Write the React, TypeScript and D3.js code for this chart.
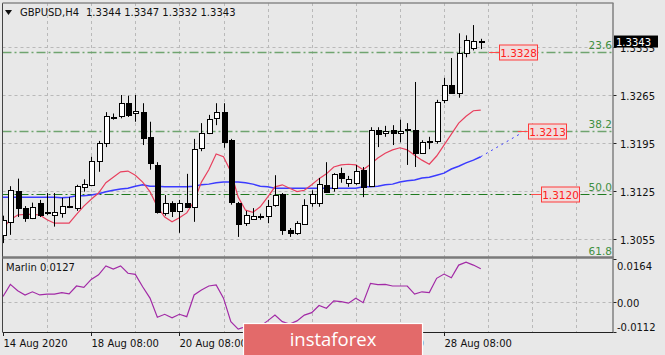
import React, { useEffect, useRef } from "react";
import * as d3 from "d3";

// GBPUSD H4 candles (bar 0 = 14 Aug 08:00)
const opens = [
  1.3061, 1.3080, 1.3125, 1.3100, 1.3086, 1.3108, 1.3093, 1.3090, 1.3093, 1.3102,
  1.3100, 1.3131, 1.3134, 1.3169, 1.3195, 1.3233, 1.3234, 1.3253, 1.3239, 1.3240,
  1.3204, 1.3163, 1.3094, 1.3108, 1.3097, 1.3108, 1.3102, 1.3188, 1.3210, 1.3231,
  1.3240, 1.3199, 1.3108, 1.3078, 1.3084, 1.3087, 1.3089, 1.3105, 1.3121, 1.3068,
  1.3064, 1.3078, 1.3108, 1.3108, 1.3134, 1.3129, 1.3151, 1.3137, 1.3137, 1.3156,
  1.3132, 1.3214, 1.3210, 1.3214, 1.3210, 1.3214, 1.3214, 1.3180, 1.3197, 1.3198,
  1.3258, 1.3280, 1.3268, 1.3326, 1.3334, 1.3344,
];
const highs = [
  1.3089, 1.3132, 1.3143, 1.3103, 1.3108, 1.3112, 1.3122, 1.3122, 1.3115, 1.3116,
  1.3134, 1.3142, 1.3175, 1.3198, 1.3240, 1.3238, 1.3265, 1.3264, 1.3265, 1.3253,
  1.3226, 1.3167, 1.3119, 1.3110, 1.3112, 1.3150, 1.3201, 1.3224, 1.3236, 1.3253,
  1.3253, 1.3201, 1.3109, 1.3096, 1.3100, 1.3092, 1.3112, 1.3148, 1.3122, 1.3071,
  1.3081, 1.3113, 1.3126, 1.3144, 1.3167, 1.3151, 1.3159, 1.3147, 1.3163, 1.3160,
  1.3218, 1.3218, 1.3220, 1.3221, 1.3229, 1.3224, 1.3284, 1.3199, 1.3204, 1.3258,
  1.3290, 1.3319, 1.3355, 1.3352, 1.3367, 1.3347,
];
const lows = [
  1.3049, 1.3061, 1.3087, 1.3080, 1.3084, 1.3087, 1.3090, 1.3073, 1.3086, 1.3100,
  1.3096, 1.3124, 1.3132, 1.3153, 1.3189, 1.3229, 1.3231, 1.3233, 1.3226, 1.3192,
  1.3156, 1.3092, 1.3089, 1.3087, 1.3064, 1.3100, 1.3080, 1.3183, 1.3208, 1.3221,
  1.3188, 1.3105, 1.3058, 1.3074, 1.3083, 1.3083, 1.3078, 1.3102, 1.3061, 1.3058,
  1.3061, 1.3077, 1.3102, 1.3102, 1.3122, 1.3124, 1.3137, 1.3131, 1.3134, 1.3116,
  1.3131, 1.3189, 1.3204, 1.3192, 1.3196, 1.3163, 1.3160, 1.3179, 1.3186, 1.3194,
  1.3253, 1.3269, 1.3261, 1.3320, 1.3330, 1.3332,
];
const closes = [
  1.3083, 1.3126, 1.3100, 1.3086, 1.3102, 1.3090, 1.3094, 1.3094, 1.3103, 1.3103,
  1.3132, 1.3135, 1.3169, 1.3195, 1.3234, 1.3232, 1.3253, 1.3236, 1.3242, 1.3202,
  1.3166, 1.3094, 1.3108, 1.3096, 1.3108, 1.3102, 1.3186, 1.3210, 1.3230, 1.3240,
  1.3196, 1.3108, 1.3077, 1.3090, 1.3089, 1.3089, 1.3103, 1.3119, 1.3068, 1.3064,
  1.3078, 1.3105, 1.3121, 1.3135, 1.3124, 1.3150, 1.3143, 1.3143, 1.3154, 1.3131,
  1.3214, 1.3208, 1.3213, 1.3210, 1.3213, 1.3215, 1.3180, 1.3196, 1.3198, 1.3255,
  1.3280, 1.3269, 1.3326, 1.3345, 1.3344, 1.3343,
];

// red (fast) and blue (slow) moving averages
const redMa = [
  1.3071, 1.3083, 1.3090, 1.3091, 1.3091, 1.3090, 1.3083, 1.3078, 1.3078, 1.3078,
  1.3091, 1.3103, 1.3113, 1.3122, 1.3137, 1.3145, 1.3153, 1.3154, 1.3148, 1.3138,
  1.3124, 1.3102, 1.3087, 1.3080, 1.3086, 1.3093, 1.3110, 1.3138, 1.3156, 1.3179,
  1.3175, 1.3153, 1.3116, 1.3097, 1.3094, 1.3102, 1.3116, 1.3131, 1.3134, 1.3129,
  1.3124, 1.3126, 1.3134, 1.3143, 1.3150, 1.3160, 1.3163, 1.3164, 1.3163, 1.3156,
  1.3164, 1.3173, 1.3180, 1.3185, 1.3188, 1.3185, 1.3177, 1.3170, 1.3164, 1.3176,
  1.3192, 1.3208, 1.3224, 1.3234, 1.3242, 1.3243,
];
const blueMa = [
  1.3116, 1.3116, 1.3116, 1.3116, 1.3116, 1.3116, 1.3116, 1.3116, 1.3115, 1.3116,
  1.3118, 1.3118, 1.3119, 1.3121, 1.3124, 1.3126, 1.3128, 1.3129, 1.3132, 1.3134,
  1.3132, 1.3132, 1.3131, 1.3131, 1.3131, 1.3131, 1.3132, 1.3134, 1.3135, 1.3137,
  1.3138, 1.3138, 1.3138, 1.3137, 1.3135, 1.3132, 1.3131, 1.3129, 1.3129, 1.3129,
  1.3129, 1.3129, 1.3129, 1.3129, 1.3129, 1.3129, 1.3129, 1.3129, 1.3129, 1.3131,
  1.3131, 1.3132, 1.3134, 1.3135, 1.3138, 1.3140, 1.3141, 1.3144, 1.3145, 1.3148,
  1.3151, 1.3157, 1.3161, 1.3166, 1.3170, 1.3175,
];
// dotted projection of the blue line
const projBars = [65, 70.3];
const projPrices = [1.3175, 1.3208];

// Marlin oscillator
const marlin = [
  0.0022, 0.0068, 0.0044, 0.0028, 0.0040, 0.0028, 0.0031, 0.0031, 0.0037, 0.0032,
  0.0062, 0.0057, 0.0087, 0.0104, 0.0138, 0.0126, 0.0138, 0.0110, 0.0106, 0.0059,
  0.0016, -0.0056, -0.0045, -0.0058, -0.0045, -0.0054, 0.0028, 0.0047, 0.0062, 0.0066,
  0.0016, -0.0073, -0.0101, -0.0092, -0.0112, -0.0090, -0.0070, -0.0048, -0.0073, -0.0082,
  -0.0070, -0.0048, -0.0039, -0.0012, -0.0022, 0.0006, 0.0003, -0.0003, 0.0016, -0.0001,
  0.0072, 0.0067, 0.0068, 0.0062, 0.0062, 0.0062, 0.0031, 0.0040, 0.0037, 0.0091,
  0.0107, 0.0093, 0.0141, 0.0152, 0.0141, 0.0127,
];

const priceTicks = [1.3055, 1.3125, 1.3195, 1.3265, 1.3335];
const marlinTicks = [0.0164, 0.0, -0.0112];
const marlinTickLabels = ["0.0164", "0.00", "-0.0112"];
const timeBars = [0, 12, 24, 36, 48, 60];
const timeLabels = ["14 Aug 2020", "18 Aug 08:00", "20 Aug 08:00", "24 Aug 08:00", "26 Aug 08:00", "28 Aug 08:00"];

const fibNames = ["23.6", "38.2", "50.0", "61.8"];
const fibPrices = [1.3328, 1.3213, 1.3120, 1.3027];

const markPrices = [1.3328, 1.3213, 1.3120];
const markBars = [67.5, 71.4, 73.2];

const lastPrice = 1.3343;

const FONT = "DejaVu Sans, Verdana, sans-serif";

const App = () => {
  const ref = useRef<SVGSVGElement>(null);

  useEffect(() => {
    const svg = d3.select(ref.current);
    svg.selectAll("*").remove();

    const width = 665;
    const height = 355;
    const left = 2.5, right = 612.5;
    const mainTop = 3, mainBottom = 257;
    const indTop = 259, indBottom = 332;

    const x = d3.scaleLinear().domain([0, 60]).range([3, 444]);
    const y = d3.scaleLinear().domain([1.30287, 1.33992]).range([mainBottom, mainTop]);
    const yM = d3.scaleLinear().domain([-0.0112, 0.0164]).range([indBottom, indTop]);

    svg.append("rect").attr("width", width).attr("height", height).attr("fill", "#e8e8e8");

    const defs = svg.append("defs");
    defs.append("clipPath").attr("id", "clipMain")
      .append("rect").attr("x", left).attr("y", mainTop).attr("width", right - left).attr("height", mainBottom - mainTop);
    defs.append("clipPath").attr("id", "clipInd")
      .append("rect").attr("x", left).attr("y", indTop).attr("width", right - left).attr("height", indBottom - indTop);

    const main = svg.append("g").attr("clip-path", "url(#clipMain)");
    const ind = svg.append("g").attr("clip-path", "url(#clipInd)");

    // grid
    const gridBars = d3.range(6, 80, 6);
    [main, ind].forEach((g, k) => {
      g.selectAll(".vg").data(gridBars).join("line")
        .attr("x1", d => Math.round(x(d)) + 0.5).attr("x2", d => Math.round(x(d)) + 0.5)
        .attr("y1", k === 0 ? mainTop : indTop).attr("y2", k === 0 ? mainBottom : indBottom)
        .attr("stroke", "#b9b9b9").attr("stroke-dasharray", "3,3");
    });
    main.selectAll(".hg").data(priceTicks).join("line")
      .attr("x1", left).attr("x2", right)
      .attr("y1", d => Math.round(y(d)) + 0.5).attr("y2", d => Math.round(y(d)) + 0.5)
      .attr("stroke", "#b9b9b9").attr("stroke-dasharray", "3,3");
    ind.append("line")
      .attr("x1", left).attr("x2", right)
      .attr("y1", Math.round(yM(0)) + 0.5).attr("y2", Math.round(yM(0)) + 0.5)
      .attr("stroke", "#b9b9b9").attr("stroke-dasharray", "3,3");

    // fibonacci levels
    fibPrices.forEach((p, i) => {
      const yy = Math.round(y(p)) + 0.5;
      main.append("line")
        .attr("x1", left).attr("x2", right).attr("y1", yy).attr("y2", yy)
        .attr("stroke", i < 2 ? "#6fa46f" : "#1f7a1f")
        .attr("stroke-width", i < 2 ? 1.6 : 1)
        .attr("stroke-dasharray", "9,3,2,3");
    });

    // moving averages
    const idx = d3.range(opens.length);
    const line = d3.line<number>().x(i => x(i));
    main.append("path")
      .attr("d", line.y(i => y(blueMa[i]))(idx))
      .attr("fill", "none").attr("stroke", "#3b3bff").attr("stroke-width", 1.5);
    main.append("path")
      .attr("d", d3.line<number>().x(i => x(projBars[i])).y(i => y(projPrices[i]))([0, 1]))
      .attr("fill", "none").attr("stroke", "#3b3bff").attr("stroke-width", 1).attr("stroke-dasharray", "2,4");
    main.append("path")
      .attr("d", d3.line<number>().x(i => x(i)).y(i => y(redMa[i]))(idx))
      .attr("fill", "none").attr("stroke", "#e8405e").attr("stroke-width", 1.2);

    // candles
    const c = main.selectAll(".candle").data(idx).join("g");
    c.append("line")
      .attr("x1", i => Math.round(x(i)) + 0.5).attr("x2", i => Math.round(x(i)) + 0.5)
      .attr("y1", i => y(highs[i])).attr("y2", i => y(lows[i]))
      .attr("stroke", "#000").attr("stroke-width", 1);
    c.append("rect")
      .attr("x", i => Math.round(x(i)) - 2 + 0.5)
      .attr("y", i => Math.round(y(Math.max(opens[i], closes[i]))) + 0.5)
      .attr("width", 5)
      .attr("height", i => Math.max(0.5, Math.round(Math.abs(y(opens[i]) - y(closes[i])))))
      .attr("fill", i => (closes[i] >= opens[i] ? "#ffffff" : "#000000"))
      .attr("stroke", "#000").attr("stroke-width", 1);

    // red price labels
    markPrices.forEach((p, i) => {
      const bx = x(markBars[i]);
      const yy = Math.round(y(p)) + 0.5;
      main.append("line").attr("x1", bx - 10).attr("x2", bx).attr("y1", yy).attr("y2", yy)
        .attr("stroke", "#ff4a4a").attr("stroke-width", 1);
      main.append("rect").attr("x", Math.round(bx) + 0.5).attr("y", yy - 7.5).attr("width", 38).attr("height", 15)
        .attr("fill", "#f0dcdc").attr("stroke", "#ff3a3a").attr("stroke-width", 1);
      main.append("text").attr("x", Math.round(bx) + 19.5).attr("y", yy + 4)
        .attr("text-anchor", "middle").attr("font-family", FONT).attr("font-size", 10.5)
        .attr("fill", "#ff2020").text(p.toFixed(4));
    });

    // fib texts
    fibPrices.forEach((p, i) => {
      svg.append("text").attr("x", right - 0.5).attr("y", Math.min(y(p), 258) - 3)
        .attr("text-anchor", "end").attr("font-family", FONT).attr("font-size", 10.5)
        .attr("fill", "#3f8f3f").text(fibNames[i]);
    });

    // Marlin line
    ind.append("path")
      .attr("d", d3.line<number>().x(i => x(i)).y(i => yM(marlin[i]))(idx))
      .attr("fill", "none").attr("stroke", "#a22aa6").attr("stroke-width", 1.2);

    // frames
    svg.append("line").attr("x1", left).attr("x2", left).attr("y1", mainTop).attr("y2", indBottom)
      .attr("stroke", "#444").attr("stroke-width", 1);
    svg.append("line").attr("x1", left).attr("x2", right + 1).attr("y1", mainTop).attr("y2", mainTop)
      .attr("stroke", "#8a8a8a").attr("stroke-width", 1.5);
    svg.append("line").attr("x1", right + 0.5).attr("x2", right + 0.5).attr("y1", mainTop).attr("y2", indBottom)
      .attr("stroke", "#808080").attr("stroke-width", 1.5);
    svg.append("line").attr("x1", left).attr("x2", right + 1).attr("y1", mainBottom + 0.5).attr("y2", mainBottom + 0.5)
      .attr("stroke", "#7a7a7a").attr("stroke-width", 2.5);
    svg.append("line").attr("x1", left).attr("x2", right + 1).attr("y1", indBottom + 0.5).attr("y2", indBottom + 0.5)
      .attr("stroke", "#222").attr("stroke-width", 1);

    // price axis
    priceTicks.forEach(p => {
      const yy = Math.round(y(p)) + 0.5;
      svg.append("line").attr("x1", right + 1).attr("x2", right + 4).attr("y1", yy).attr("y2", yy).attr("stroke", "#222");
      svg.append("text").attr("x", 620).attr("y", yy + 4).attr("font-family", FONT).attr("font-size", 10)
        .attr("fill", "#111").text(p.toFixed(4));
    });
    marlinTicks.forEach((v, i) => {
      const yy = Math.round(yM(v)) + 0.5;
      svg.append("line").attr("x1", right + 1).attr("x2", right + 4).attr("y1", yy).attr("y2", yy).attr("stroke", "#222");
      const ty = i === 0 ? yy + 10 : i === 2 ? yy - 2 : yy + 4;
      svg.append("text").attr("x", 617).attr("y", ty).attr("font-family", FONT).attr("font-size", 10)
        .attr("fill", "#111").text(marlinTickLabels[i]);
    });

    // current price box
    const ly = y(lastPrice);
    svg.append("rect").attr("x", 614).attr("y", ly - 6).attr("width", 44).attr("height", 12).attr("fill", "#000");
    svg.append("text").attr("x", 616).attr("y", ly + 4).attr("font-family", FONT).attr("font-size", 10)
      .attr("fill", "#fff").text(lastPrice.toFixed(4));

    // time axis
    timeBars.forEach((b, i) => {
      const xx = Math.round(x(b)) + 0.5;
      svg.append("line").attr("x1", xx).attr("x2", xx).attr("y1", indBottom).attr("y2", indBottom + 4).attr("stroke", "#222");
      svg.append("text").attr("x", xx).attr("y", 347).attr("font-family", FONT).attr("font-size", 10)
        .attr("fill", "#111").text(timeLabels[i]);
    });

    // titles
    svg.append("path").attr("d", "M5,10 L12,10 L8.5,15 Z").attr("fill", "#111");
    svg.append("text").attr("x", 20).attr("y", 15.5).attr("font-family", FONT).attr("font-size", 10)
      .attr("fill", "#111").text("GBPUSD,H4");
    svg.append("text").attr("x", 86).attr("y", 15.5).attr("font-family", FONT).attr("font-size", 10)
      .attr("fill", "#111").text("1.3344 1.3347 1.3332 1.3343");
    svg.append("text").attr("x", 6).attr("y", 271).attr("font-family", FONT).attr("font-size", 10)
      .attr("fill", "#111").text("Marlin 0.0127");

    // watermark
    svg.append("rect").attr("x", 243.5).attr("y", 323.5).attr("width", 179).attr("height", 40)
      .attr("fill", "#e36a6a").attr("stroke", "#ffffff").attr("stroke-width", 1.2);
    svg.append("text").attr("x", 333).attr("y", 346).attr("text-anchor", "middle")
      .attr("font-family", "Open Sans, sans-serif").attr("font-size", 18.5).attr("fill", "#ffffff")
      .text("instaforex");
  }, []);

  return (
    <svg ref={ref} width={665} height={355}
      style={{ position: "absolute", left: 0, top: 0, display: "block" }} />
  );
};

export default App;
